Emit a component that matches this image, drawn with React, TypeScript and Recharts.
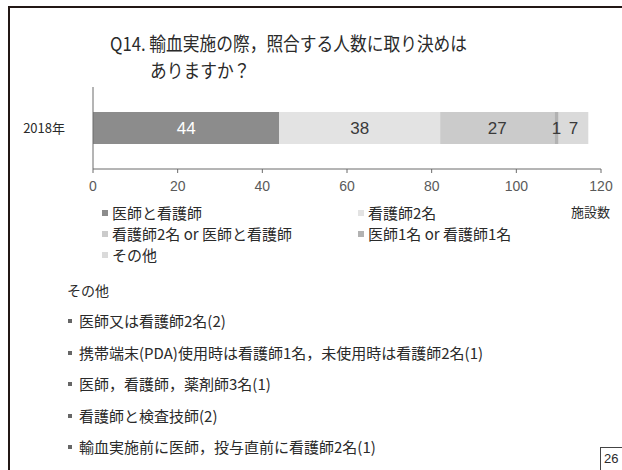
import React from "react";
import { BarChart, Bar, XAxis, YAxis, LabelList } from "recharts";

// One stacked horizontal bar (2018年) plus a hand-placed legend and the "その他" notes.

const categories = ["2018年"];
const seriesNames = [
  "医師と看護師",
  "看護師2名",
  "看護師2名 or 医師と看護師",
  "医師1名 or 看護師1名",
  "その他",
];
const seriesValues = [44, 38, 27, 1, 7];
const seriesColors = ["#8c8c8c", "#e3e3e3", "#cbcbcb", "#b2b2b2", "#dadada"];
const labelColors = ["#ffffff", "#3a3a3a", "#3a3a3a", "#3a3a3a", "#3a3a3a"];
const xTicks = [0, 20, 40, 60, 80, 100, 120];
const titleLines = ["Q14. 輸血実施の際，照合する人数に取り決めは", "ありますか？"];
const unitLabel = "施設数";
const otherHeading = "その他";
const otherItems = [
  "医師又は看護師2名(2)",
  "携帯端末(PDA)使用時は看護師1名，未使用時は看護師2名(1)",
  "医師，看護師，薬剤師3名(1)",
  "看護師と検査技師(2)",
  "輸血実施前に医師，投与直前に看護師2名(1)",
];
const pageNo = "26";

const data = categories.map((category) => {
  const row: Record<string, string | number> = { category };
  seriesValues.forEach((v, i) => (row[`s${i}`] = v));
  return row;
});

const FONT = '"Noto Sans CJK JP", "Noto Sans", sans-serif';
const INK = "#2a2a2a";
const AXIS = "#6b6b6b";

const abs = (left: number, top: number, extra: React.CSSProperties = {}): React.CSSProperties => ({
  position: "absolute", left, top, whiteSpace: "nowrap", ...extra,
});

// legend sits in two columns, filled row by row
const legendCols = [104, 360];
const legendRows = [213, 234, 255];

export default function App() {
  return (
    <div style={{ position: "absolute", left: 0, top: 0, width: 622, height: 470, background: "#fff", overflow: "hidden", fontFamily: FONT, color: INK }}>
      {/* frame */}
      <div style={abs(8, 6, { width: 614, height: 2, background: "#231815" })} />
      <div style={abs(8, 6, { width: 2, height: 464, background: "#231815" })} />

      {/* title font is condensed in the original, so squeeze it a bit */}
      {titleLines.map((t, i) => (
        <div key={t} style={abs(i === 0 ? 110 : 150, (i === 0 ? 43 : 70) - 13, {
          fontSize: 19, lineHeight: "26px", transform: "scaleX(0.88)", transformOrigin: "left center",
        })}>{t}</div>
      ))}

      <div style={abs(0, 0)}>
        <BarChart width={622} height={200} layout="vertical" data={data}
          margin={{ top: 87, right: 21, bottom: 0, left: 0 }}>
          <YAxis type="category" dataKey="category" width={93} tickLine={false} tickMargin={22}
            axisLine={{ stroke: AXIS }} tick={{ fontSize: 13, fill: INK, fontFamily: FONT }} />
          <XAxis type="number" domain={[0, 120]} ticks={xTicks} height={31} tickSize={4} tickMargin={8}
            axisLine={{ stroke: AXIS }} tickLine={{ stroke: AXIS }}
            tick={{ fontSize: 14, fill: "#5a5a5a", fontFamily: "Liberation Sans, sans-serif" }} />
          {seriesNames.map((name, i) => (
            <Bar key={name} dataKey={`s${i}`} name={name} stackId="a" fill={seriesColors[i]} barSize={32} isAnimationActive={false}>
              <LabelList dataKey={`s${i}`} position="center" fill={labelColors[i]} fontSize={17}
                fontFamily="Liberation Sans, sans-serif" />
            </Bar>
          ))}
        </BarChart>
      </div>

      <div style={abs(571, 212 - 9, { fontSize: 13, lineHeight: "18px" })}>{unitLabel}</div>

      {seriesNames.map((name, i) => {
        const x = legendCols[i % 2];
        const y = legendRows[Math.floor(i / 2)];
        return (
          <React.Fragment key={name}>
            <div style={abs(x - 2, y - 3, { width: 6, height: 6, background: seriesColors[i] })} />
            <div style={abs(x + 8, y - 10, { fontSize: 15, lineHeight: "20px" })}>{name}</div>
          </React.Fragment>
        );
      })}

      <div style={abs(67, 290 - 10, { fontSize: 14, lineHeight: "20px" })}>{otherHeading}</div>
      {otherItems.map((t, i) => {
        const y = 321 + i * 31.5;
        return (
          <React.Fragment key={t}>
            <div style={abs(68, y - 2, { width: 4, height: 4, background: "#666" })} />
            <div style={abs(79, y - 10, { fontSize: 15, lineHeight: "20px" })}>{t}</div>
          </React.Fragment>
        );
      })}

      <div style={abs(600, 447, { width: 30, height: 30, border: "1px solid #444", fontSize: 13, lineHeight: "22px", paddingLeft: 3, boxSizing: "border-box", fontFamily: "Liberation Sans, sans-serif" })}>{pageNo}</div>
    </div>
  );
}
